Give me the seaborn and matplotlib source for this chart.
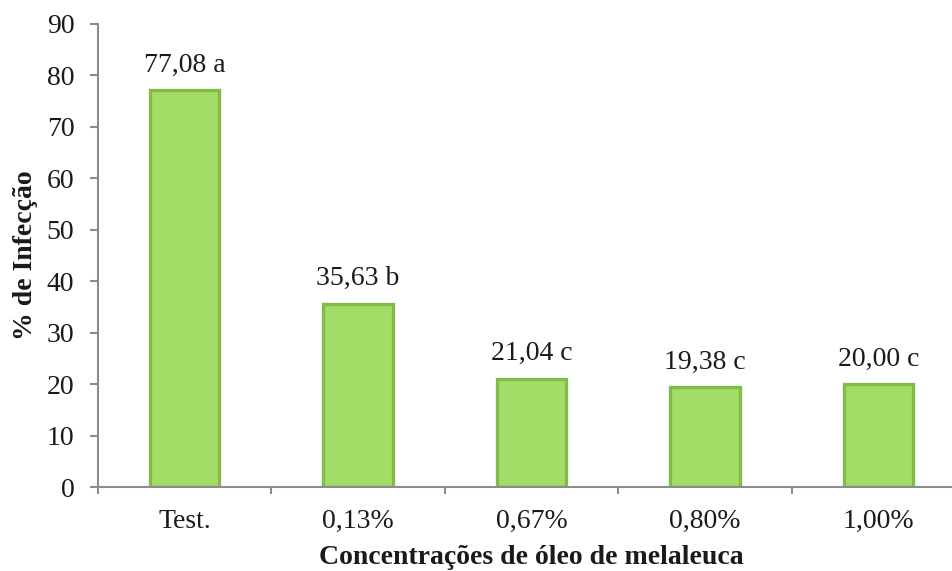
import matplotlib
matplotlib.use("Agg")
import matplotlib.pyplot as plt
import seaborn as sns
import pandas as pd

# Infection percentage by tea-tree oil concentration
categories = ["Test.", "0,13%", "0,67%", "0,80%", "1,00%"]
infection = [77.08, 35.63, 21.04, 19.38, 20.00]
letters = ["a", "b", "c", "c", "c"]
y_ticks = [0, 10, 20, 30, 40, 50, 60, 70, 80, 90]

df = pd.DataFrame({"conc": categories, "pct": infection})

sns.set_theme(style="white")
plt.rcParams["font.family"] = ["Liberation Serif", "DejaVu Serif"]

FS = 20
TXT = "#1a1a1a"
AXC = "#8c8c8c"

fig = plt.figure(figsize=(9.53, 5.71), dpi=100)
ax = fig.add_axes([0.1028, 0.1471, 0.9098, 0.8109])

sns.barplot(data=df, x="conc", y="pct", order=categories, ax=ax,
            color="#a3dc66", width=0.4, saturation=1,
            edgecolor="#82bb4a", linewidth=2.4)

# value labels with significance letters
for i, (v, l) in enumerate(zip(infection, letters)):
    txt = f"{v:.2f}".replace(".", ",") + " " + l
    ax.annotate(txt, xy=(i, v), xytext=(0, 9), textcoords="offset points",
                ha="center", va="bottom", fontsize=FS, color=TXT)

ax.set_xlim(-0.5, len(categories) - 0.5)
ax.set_ylim(0, 90)
ax.set_yticks(y_ticks)
ax.set_yticklabels([str(t) for t in y_ticks], fontsize=FS, color=TXT)

# category labels without marks; marks at category boundaries
ax.set_xticks(range(len(categories)))
ax.set_xticklabels(categories, fontsize=FS, color=TXT)
ax.tick_params(axis="x", which="major", length=0, pad=16)
ax.set_xticks([i - 0.5 for i in range(len(categories) + 1)], minor=True)
ax.tick_params(axis="x", which="minor", length=5, width=1.5,
               color=AXC, direction="out", bottom=True)
ax.tick_params(axis="y", which="major", length=6, width=1.5,
               color=AXC, direction="out", left=True, pad=11)

for side in ["top", "right"]:
    ax.spines[side].set_visible(False)
for side in ["left", "bottom"]:
    ax.spines[side].set_color(AXC)
    ax.spines[side].set_linewidth(1.5)

ax.set_xlabel("Concentrações de óleo de melaleuca", fontsize=FS,
              fontweight="bold", color=TXT, labelpad=8)
ax.set_ylabel("% de Infecção", fontsize=FS, fontweight="bold",
              color=TXT, labelpad=6)
ax.grid(False)

fig.savefig("out.png", dpi=100)
